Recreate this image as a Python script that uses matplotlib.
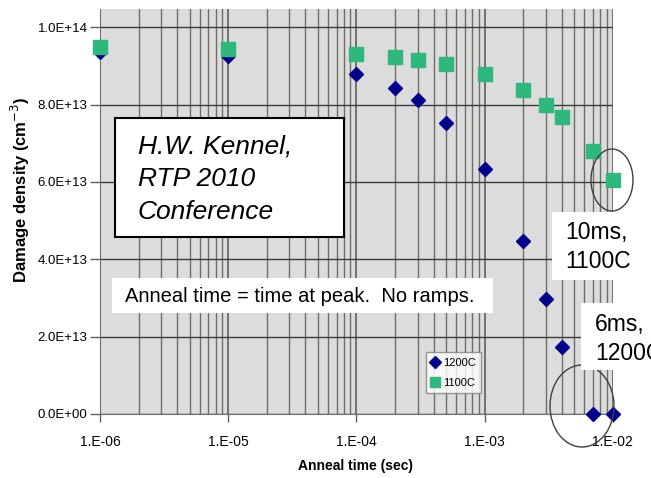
import numpy as np
import matplotlib
matplotlib.use("Agg")
import matplotlib.pyplot as plt
from matplotlib.patches import Ellipse, Rectangle
from matplotlib.ticker import LogLocator, FixedLocator, FuncFormatter

plt.rcParams['font.family'] = ['Liberation Sans', 'DejaVu Sans']

# anneal time (sec) and damage density (cm-3)
t_1200 = [1e-6, 1e-5, 1e-4, 2e-4, 3e-4, 5e-4, 1e-3, 2e-3, 3e-3, 4e-3, 7e-3, 1e-2]
d_1200 = [9.35e13, 9.25e13, 8.8e13, 8.43e13, 8.11e13, 7.53e13, 6.33e13,
          4.48e13, 2.97e13, 1.73e13, 0.0, 0.0]
t_1100 = [1e-6, 1e-5, 1e-4, 2e-4, 3e-4, 5e-4, 1e-3, 2e-3, 3e-3, 4e-3, 7e-3, 1e-2]
d_1100 = [9.48e13, 9.44e13, 9.31e13, 9.22e13, 9.15e13, 9.05e13, 8.79e13,
          8.38e13, 8.0e13, 7.68e13, 6.8e13, 6.05e13]

y_ticks = [0, 2e13, 4e13, 6e13, 8e13, 1e14]
y_labels = ['0.0E+00', '2.0E+13', '4.0E+13', '6.0E+13', '8.0E+13', '1.0E+14']
x_ticks = [1e-6, 1e-5, 1e-4, 1e-3, 1e-2]
x_labels = ['1.E-06', '1.E-05', '1.E-04', '1.E-03', '1.E-02']

W, H = 651, 478
fig = plt.figure(figsize=(W / 100, H / 100), dpi=100)
fig.patch.set_facecolor('white')

def px(x, y):
    # pixel position (from top-left) -> figure fraction
    return x / W, 1 - y / H

ax = fig.add_axes([100 / W, (H - 414) / H, (613 - 100) / W, (414 - 9) / H])
ax.set_facecolor('#dcdcdc')
ax.set_xscale('log')
ax.set_xlim(1e-6, 1.005e-2)
ax.set_ylim(0, 1.047e14)

# grid: every minor decade step plus the majors
ax.xaxis.set_major_locator(FixedLocator(x_ticks))
ax.xaxis.set_minor_locator(LogLocator(base=10, subs=np.arange(2, 10)))
ax.xaxis.set_minor_formatter(FuncFormatter(lambda v, p: ''))
ax.set_xticks(x_ticks)
ax.set_xticklabels(x_labels)
ax.set_yticks(y_ticks)
ax.set_yticklabels(y_labels)
ax.grid(True, which='major', axis='x', color='#555548', lw=1.1)
ax.grid(True, which='minor', axis='x', color='#6e6e62', lw=1.0)
ax.grid(True, which='major', axis='y', color='#3c3c3c', lw=1.0)
ax.set_axisbelow(True)

ax.tick_params(axis='x', which='major', length=6, width=1, color='#606060',
               labelsize=10, pad=9)
ax.tick_params(axis='x', which='minor', length=0)
ax.tick_params(axis='y', length=7, width=1, color='#606060', labelsize=9.5, pad=2)
for s in ['top', 'right']:
    ax.spines[s].set_visible(False)
for s in ['left', 'bottom']:
    ax.spines[s].set_color('#707070')

ax.plot(t_1200, d_1200, ls='none', marker='D', ms=7.5, color='#00008c',
        mec='#00008c', label='1200C', zorder=3, clip_on=False)
ax.plot(t_1100, d_1100, ls='none', marker='s', ms=9.5, color='#2eb87c',
        mec='#2eb87c', label='1100C', zorder=4, clip_on=False)

leg = ax.legend(loc='upper left', bbox_to_anchor=((426 - 100) / 513, 1 - (352 - 9) / 405),
                fontsize=8, frameon=True, fancybox=False, borderpad=0.5,
                handlelength=0.7, handletextpad=0.3, labelspacing=0.9,
                borderaxespad=0, markerscale=0.75)
leg.get_frame().set_edgecolor('#808080')
leg.get_frame().set_linewidth(1.0)

fig.text(*px(20, 190), 'Damage density (cm$^{-3}$)', rotation=90, ha='center',
         va='center', fontsize=12, fontweight='bold')
fig.text(*px(356, 466), 'Anneal time (sec)', ha='center', va='center',
         fontsize=10, fontweight='bold')

# callout boxes
def box(x0, y0, x1, y1, edge=None, lw=0):
    fig.patches.append(Rectangle(px(x0, y1), (x1 - x0) / W, (y1 - y0) / H,
                                 transform=fig.transFigure, facecolor='white',
                                 edgecolor=edge if edge else 'white', lw=lw, zorder=5))

def oval(cx, cy, w, h):
    fig.patches.append(Ellipse(px(cx, cy), w / W, h / H, transform=fig.transFigure,
                               facecolor='none', edgecolor='#404040', lw=1.0, zorder=4))

oval(612, 180, 42, 62)
oval(582, 406, 64, 82)

box(115, 118, 344, 237, edge='black', lw=1.5)
fig.text(*px(138, 179), 'H.W. Kennel,\nRTP 2010\nConference', ha='left', va='center',
         fontsize=19, style='italic', linespacing=1.45, zorder=6)

box(112, 278, 493, 313)
fig.text(*px(125, 296), 'Anneal time = time at peak.  No ramps.', ha='left',
         va='center', fontsize=14.5, zorder=6)

box(552, 212, 660, 280)
fig.text(*px(565, 247), '10ms,\n1100C', ha='left', va='center', fontsize=16.5,
         linespacing=1.3, zorder=6)

box(581, 303, 660, 370)
fig.text(*px(595, 339), '6ms,\n1200C', ha='left', va='center', fontsize=16.5,
         linespacing=1.3, zorder=6)

fig.savefig('out.png', dpi=100)
